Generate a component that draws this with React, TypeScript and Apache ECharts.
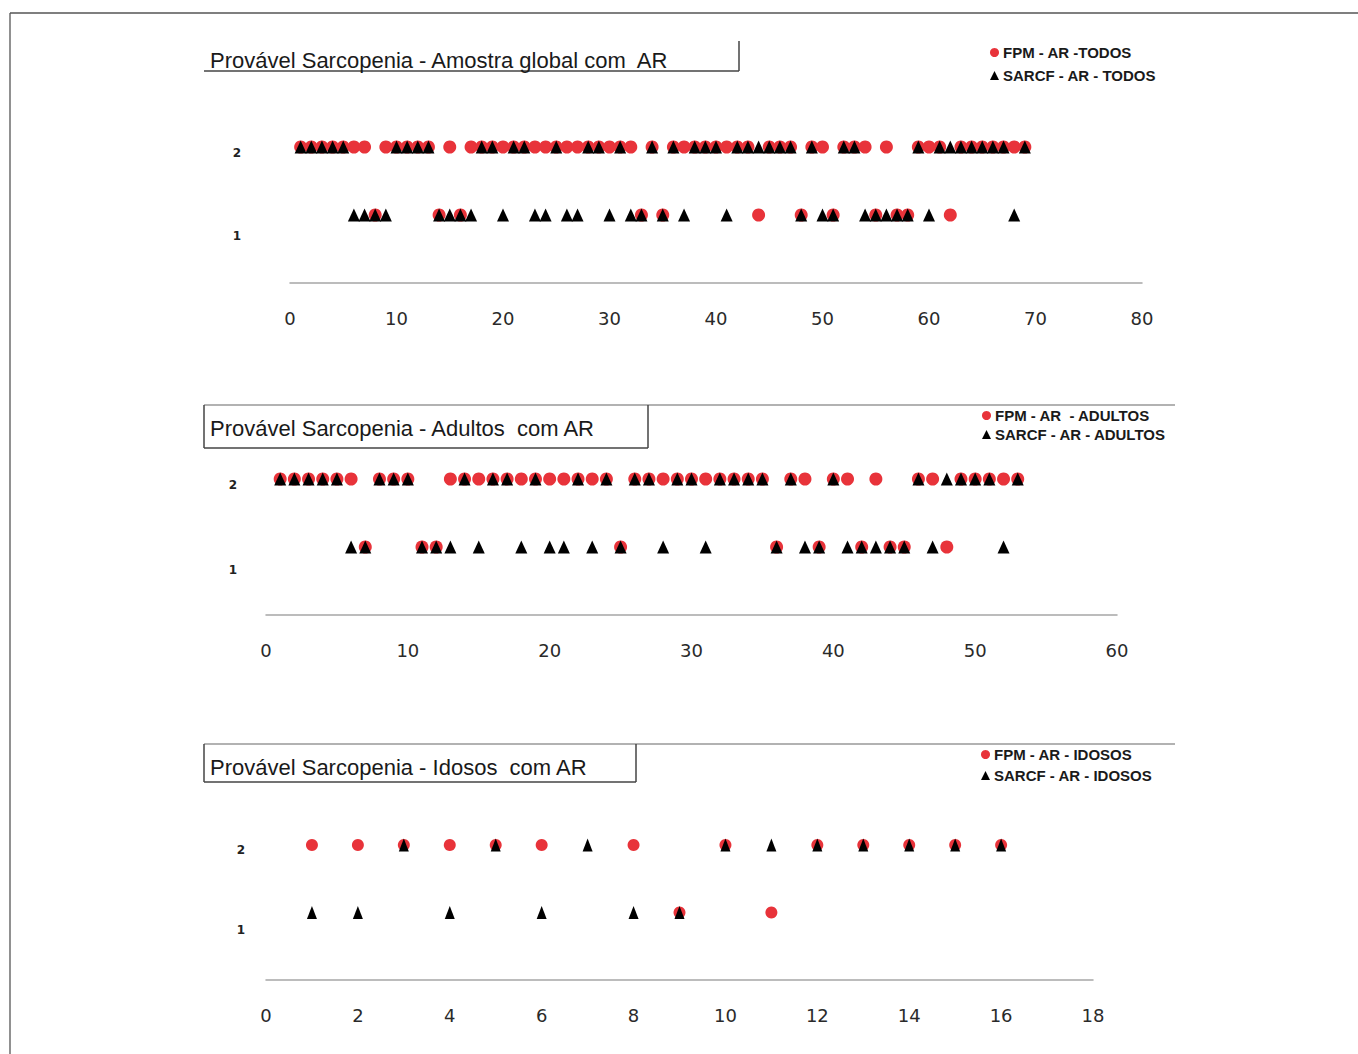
import React, { useEffect, useRef } from "react";
import * as echarts from "echarts";

// ---------- DATA ----------
// Each array: one value (1 or 2) per subject, subject index = position + 1
const fpmTodos = [
  2, 2, 2, 2, 2, 2, 2, 1, 2, 2,
  2, 2, 2, 1, 2, 1, 2, 2, 2, 2,
  2, 2, 2, 2, 2, 2, 2, 2, 2, 2,
  2, 2, 1, 2, 1, 2, 2, 2, 2, 2,
  2, 2, 2, 1, 2, 2, 2, 1, 2, 2,
  1, 2, 2, 2, 1, 2, 1, 1, 2, 2,
  2, 1, 2, 2, 2, 2, 2, 2, 2,
];
const sarcfTodos = [
  2, 2, 2, 2, 2, 1, 1, 1, 1, 2,
  2, 2, 2, 1, 1, 1, 1, 2, 2, 1,
  2, 2, 1, 1, 2, 1, 1, 2, 2, 1,
  2, 1, 1, 2, 1, 2, 1, 2, 2, 2,
  1, 2, 2, 2, 2, 2, 2, 1, 2, 1,
  1, 2, 2, 1, 1, 1, 1, 1, 2, 1,
  2, 2, 2, 2, 2, 2, 2, 1, 2,
];
const fpmAdultos = [
  2, 2, 2, 2, 2, 2, 1, 2, 2, 2,
  1, 1, 2, 2, 2, 2, 2, 2, 2, 2,
  2, 2, 2, 2, 1, 2, 2, 2, 2, 2,
  2, 2, 2, 2, 2, 1, 2, 2, 1, 2,
  2, 1, 2, 1, 1, 2, 2, 1, 2, 2,
  2, 2, 2,
];
const sarcfAdultos = [
  2, 2, 2, 2, 2, 1, 1, 2, 2, 2,
  1, 1, 1, 2, 1, 2, 2, 1, 2, 1,
  1, 2, 1, 2, 1, 2, 2, 1, 2, 2,
  1, 2, 2, 2, 2, 1, 2, 1, 1, 2,
  1, 1, 1, 1, 1, 2, 1, 2, 2, 2,
  2, 1, 2,
];
const fpmIdosos = [2, 2, 2, 2, 2, 2, null, 2, 1, 2, 1, 2, 2, 2, 2, 2];
const sarcfIdosos = [1, 1, 2, 1, 2, 1, 2, 1, 1, 2, 2, 2, 2, 2, 2, 2];

const titles = [
  "Provável Sarcopenia - Amostra global com  AR",
  "Provável Sarcopenia - Adultos  com AR",
  "Provável Sarcopenia - Idosos  com AR",
];
const legendNames = [
  ["FPM - AR -TODOS", "SARCF - AR - TODOS"],
  ["FPM - AR  - ADULTOS", "SARCF - AR - ADULTOS"],
  ["FPM - AR - IDOSOS", "SARCF - AR - IDOSOS"],
];
const xMax = [80, 60, 18];
const xInterval = [10, 10, 2];
const yTickLabels = ["1", "2"];

// ---------- STYLE ----------
const RED = "#e8333a";
const BLACK = "#000000";

const toPoints = (arr: (number | null)[]) =>
  arr.map((v, i) => (v == null ? null : [i + 1, v])).filter((p) => p !== null);

export default function App() {
  const ref = useRef<HTMLDivElement>(null);

  useEffect(() => {
    document.body.style.margin = "0";
    const chart = echarts.init(ref.current!, undefined, { renderer: "svg" });

    const panels = [
      { left: 290, width: 852, axisY: 283, unit: 68, labTop: 153, labH: 83, labLeft: 245, legLeft: 990, legTop: 45, legGap: 8, fpm: fpmTodos, sarcf: sarcfTodos, sym: [12, 13] },
      { left: 266, width: 851, axisY: 615, unit: 68, labTop: 485, labH: 85, labLeft: 241, legLeft: 982, legTop: 408, legGap: 4, fpm: fpmAdultos, sarcf: sarcfAdultos, sym: [12, 13] },
      { left: 266, width: 827, axisY: 980, unit: 67.5, labTop: 850, labH: 80, labLeft: 249, legLeft: 981, legTop: 747, legGap: 6, fpm: fpmIdosos, sarcf: sarcfIdosos, sym: [11, 13] },
    ];

    const grid: any[] = [];
    const xAxis: any[] = [];
    const yAxis: any[] = [];
    const series: any[] = [];
    const legend: any[] = [];

    panels.forEach((p, k) => {
      const h = p.unit * 2.5;
      grid.push({ left: p.left, top: p.axisY - h, width: p.width, height: h, containLabel: false });
      grid.push({ left: p.labLeft, top: p.labTop, width: 10, height: p.labH, containLabel: false });

      xAxis.push({
        type: "value",
        gridIndex: 2 * k,
        min: 0,
        max: xMax[k],
        interval: xInterval[k],
        axisLine: { show: true, lineStyle: { color: "#a6a6a6", width: 1.5 } },
        axisTick: { show: false },
        splitLine: { show: false },
        axisLabel: { margin: 26, fontFamily: "DejaVu Sans", fontSize: 18, color: "#2a2a2a" },
      });
      xAxis.push({ type: "value", gridIndex: 2 * k + 1, show: false, min: 0, max: 1 });

      yAxis.push({ type: "value", gridIndex: 2 * k, show: false, min: 0, max: 2.5 });
      yAxis.push({
        type: "value",
        gridIndex: 2 * k + 1,
        min: 1,
        max: 2,
        interval: 1,
        axisLine: { show: false },
        axisTick: { show: false },
        splitLine: { show: false },
        axisLabel: {
          margin: 8,
          align: "center",
          fontFamily: "DejaVu Sans",
          fontWeight: "bold",
          fontSize: 12,
          color: "#222",
          formatter: (v: number) => yTickLabels[v - 1] ?? "",
        },
      });

      series.push({
        name: legendNames[k][0],
        type: "scatter",
        xAxisIndex: 2 * k,
        yAxisIndex: 2 * k,
        symbol: "circle",
        symbolSize: [p.sym[0] + 1, p.sym[0] + 1],
        itemStyle: { color: RED, opacity: 1 },
        data: toPoints(p.fpm),
        z: 2,
      });
      series.push({
        name: legendNames[k][1],
        type: "scatter",
        xAxisIndex: 2 * k,
        yAxisIndex: 2 * k,
        symbol: "triangle",
        symbolSize: [p.sym[0] - (k === 2 ? 1 : 0), p.sym[1]],
        itemStyle: { color: BLACK, opacity: 1 },
        data: toPoints(p.sarcf),
        z: 3,
      });

      legend.push({
        data: [
          { name: legendNames[k][0], icon: "circle", itemStyle: { color: RED, opacity: 1 } },
          { name: legendNames[k][1], icon: "triangle", itemStyle: { color: BLACK, opacity: 1 } },
        ],
        orient: "vertical",
        left: p.legLeft,
        top: p.legTop,
        itemWidth: 9,
        itemHeight: 9,
        itemGap: p.legGap,
        selectedMode: false,
        padding: 0,
        textStyle: { fontFamily: "Liberation Sans", fontWeight: "bold", fontSize: 15, color: "#1a1a1a", padding: [0, 0, 0, -1] },
      });
    });

    const lineStyle = { stroke: "#555", lineWidth: 1.3 };
    const boxLine = { stroke: "#444", lineWidth: 1.5 };
    const titleStyle = (txt: string, x: number, y: number) => ({
      type: "text",
      x,
      y,
      style: { text: txt, fontFamily: "Liberation Sans", fontSize: 22, fill: "#1a1a1a", textVerticalAlign: "middle" },
    });

    const graphic: any[] = [
      { type: "line", shape: { x1: 10, y1: 13, x2: 1358, y2: 13 }, style: lineStyle },
      { type: "line", shape: { x1: 10, y1: 13, x2: 10, y2: 1054 }, style: lineStyle },
      { type: "line", shape: { x1: 204, y1: 71, x2: 739, y2: 71 }, style: boxLine },
      { type: "line", shape: { x1: 739, y1: 41, x2: 739, y2: 71 }, style: boxLine },
      titleStyle(titles[0], 210, 60),
      { type: "line", shape: { x1: 204, y1: 405, x2: 1175, y2: 405 }, style: { stroke: "#999", lineWidth: 1.3 } },
      { type: "line", shape: { x1: 204, y1: 405, x2: 204, y2: 448 }, style: boxLine },
      { type: "line", shape: { x1: 204, y1: 448, x2: 648, y2: 448 }, style: boxLine },
      { type: "line", shape: { x1: 648, y1: 405, x2: 648, y2: 448 }, style: boxLine },
      titleStyle(titles[1], 210, 428),
      { type: "line", shape: { x1: 204, y1: 744, x2: 1175, y2: 744 }, style: { stroke: "#999", lineWidth: 1.3 } },
      { type: "line", shape: { x1: 204, y1: 744, x2: 204, y2: 782 }, style: boxLine },
      { type: "line", shape: { x1: 204, y1: 782, x2: 636, y2: 782 }, style: boxLine },
      { type: "line", shape: { x1: 636, y1: 744, x2: 636, y2: 782 }, style: boxLine },
      titleStyle(titles[2], 210, 767),
    ];

    chart.setOption({
      animation: false,
      backgroundColor: "#ffffff",
      grid,
      xAxis,
      yAxis,
      series,
      legend,
      graphic,
    });

    return () => chart.dispose();
  }, []);

  return <div ref={ref} style={{ width: 1358, height: 1054 }} />;
}
